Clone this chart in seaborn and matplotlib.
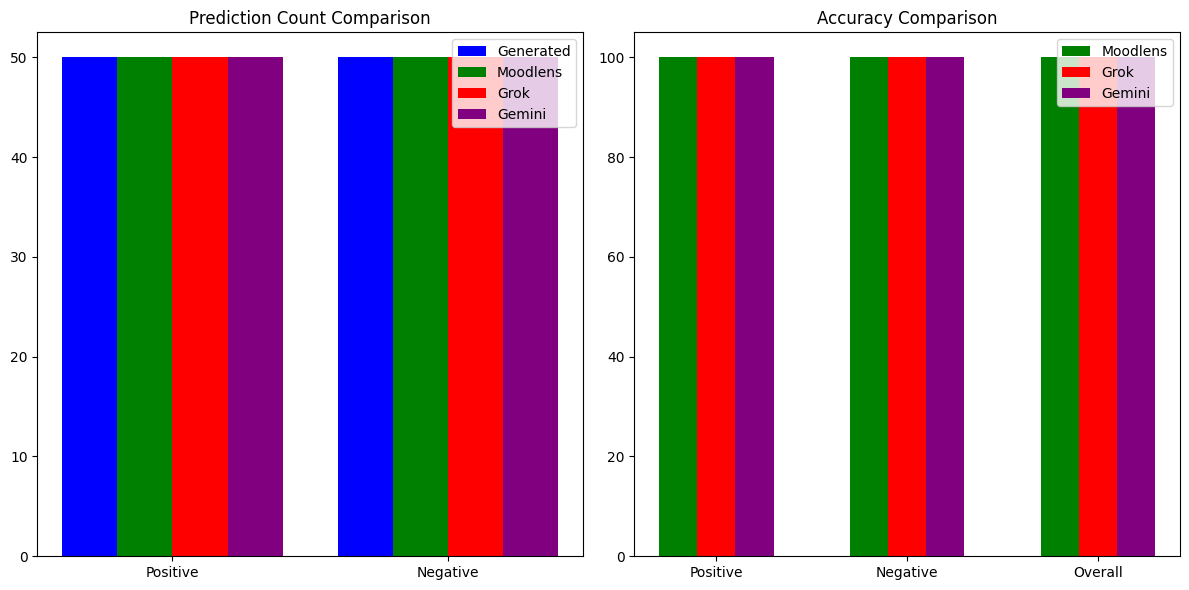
import matplotlib
matplotlib.use("Agg")
import matplotlib.pyplot as plt
import seaborn as sns
import pandas as pd

count_categories = ["Positive", "Negative"]
count_series = ["Generated", "Moodlens", "Grok", "Gemini"]
count_values = {
    "Generated": [50, 50],
    "Moodlens": [50, 50],
    "Grok": [50, 50],
    "Gemini": [50, 50],
}
count_colors = ["blue", "green", "red", "purple"]

acc_categories = ["Positive", "Negative", "Overall"]
acc_series = ["Moodlens", "Grok", "Gemini"]
acc_values = {
    "Moodlens": [100, 100, 100],
    "Grok": [100, 100, 100],
    "Gemini": [100, 100, 100],
}
acc_colors = ["green", "red", "purple"]

df_count = pd.DataFrame(
    [(c, s, count_values[s][i]) for s in count_series for i, c in enumerate(count_categories)],
    columns=["Category", "Model", "Value"],
)
df_acc = pd.DataFrame(
    [(c, s, acc_values[s][i]) for s in acc_series for i, c in enumerate(acc_categories)],
    columns=["Category", "Model", "Value"],
)

fig, axes = plt.subplots(1, 2, figsize=(12, 6), dpi=100)

ax = axes[0]
sns.barplot(data=df_count, x="Category", y="Value", hue="Model", order=count_categories,
            hue_order=count_series, palette=count_colors, width=0.8, errorbar=None,
            linewidth=0, saturation=1, ax=ax)
ax.set_xlim(-0.49, 1.49)
ax.set_ylim(0, 52.5)
ax.set_title("Prediction Count Comparison")
ax.set_xlabel("")
ax.set_ylabel("")
ax.legend(loc="upper right")

ax = axes[1]
sns.barplot(data=df_acc, x="Category", y="Value", hue="Model", order=acc_categories,
            hue_order=acc_series, palette=acc_colors, width=0.6, errorbar=None,
            linewidth=0, saturation=1, ax=ax)
ax.set_xlim(-0.43, 2.43)
ax.set_ylim(0, 105)
ax.set_title("Accuracy Comparison")
ax.set_xlabel("")
ax.set_ylabel("")
ax.legend(loc="upper right")

plt.tight_layout()
fig.savefig("out.png", dpi=100, bbox_inches="tight")
